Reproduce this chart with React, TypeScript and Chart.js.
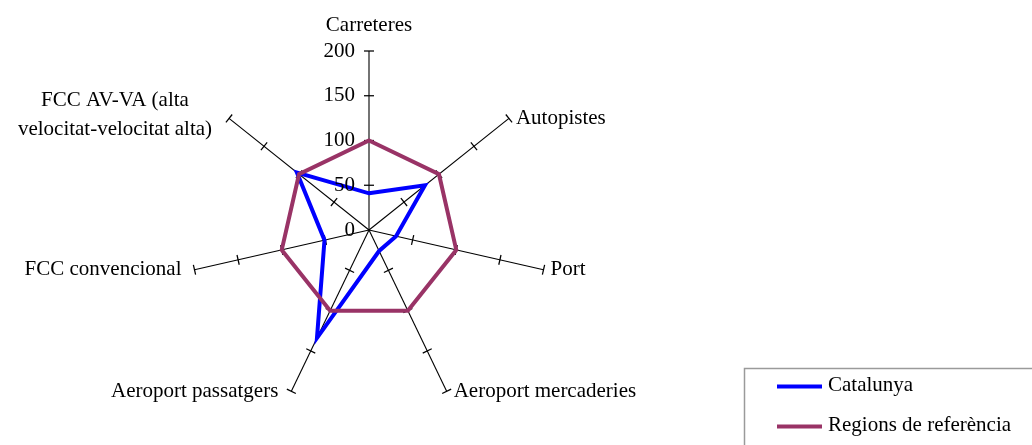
import React, { useEffect, useRef } from "react";
import { Chart, registerables } from "chart.js";

Chart.register(...registerables);

const categories: (string | string[])[] = [
  "Carreteres",
  "Autopistes",
  "Port",
  "Aeroport mercaderies",
  "Aeroport passatgers",
  "FCC convencional",
  ["FCC AV-VA (alta", "velocitat-velocitat alta)"],
];

const catalunya = [41, 80, 31, 26, 134, 51, 103];
const regionsReferencia = [100, 100, 100, 100, 100, 100, 100];

const tickValues = [0, 50, 100, 150, 200];

const FONT = '21px "Liberation Serif", "Times New Roman", serif';

// Tick marks across every spoke, tick labels on the first spoke,
// category labels at the spoke ends and a boxed legend.
const radarDecor = {
  id: "radarDecor",
  beforeDatasetsDraw(chart: any) {
    const scale = chart.scales.r;
    const ctx = chart.ctx;
    const n = chart.data.labels.length;
    ctx.save();
    ctx.strokeStyle = "#000";
    ctx.lineWidth = 1.25;
    for (let i = 0; i < n; i++) {
      for (const v of tickValues) {
        if (v === 0) continue;
        const p = scale.getPointPositionForValue(i, v);
        const a = p.angle + Math.PI / 2;
        const dx = Math.cos(a) * 5;
        const dy = Math.sin(a) * 5;
        ctx.beginPath();
        ctx.moveTo(p.x - dx, p.y - dy);
        ctx.lineTo(p.x + dx, p.y + dy);
        ctx.stroke();
      }
    }
    ctx.restore();
  },
  afterDraw(chart: any) {
    const scale = chart.scales.r;
    const ctx = chart.ctx;
    const labels = chart.data.labels;
    const cx = scale.xCenter;
    ctx.save();
    ctx.font = FONT;
    ctx.fillStyle = "#000";

    // value labels along the Carreteres spoke
    ctx.textAlign = "right";
    ctx.textBaseline = "middle";
    for (const v of tickValues) {
      const p = scale.getPointPositionForValue(0, v);
      ctx.fillText(String(v), cx - 14, p.y);
    }

    // category labels
    const lineH = 29;
    labels.forEach((lab: string | string[], i: number) => {
      const end = scale.getPointPositionForValue(i, scale.max);
      const lines = Array.isArray(lab) ? lab : [lab];
      let x = end.x;
      let yMid = end.y;
      if (Math.abs(end.x - cx) < 2) {
        ctx.textAlign = "center";
        yMid = end.y - 26;
      } else if (end.x > cx) {
        ctx.textAlign = "left";
        x = end.x + 7;
      } else {
        ctx.textAlign = lines.length > 1 ? "center" : "right";
        if (lines.length > 1) {
          let w = 0;
          for (const l of lines) w = Math.max(w, ctx.measureText(l).width);
          x = end.x - 17 - w / 2;
          yMid = end.y - 3;
        } else {
          x = end.x - 13;
        }
      }
      lines.forEach((l, k) => {
        const y = yMid + (k - (lines.length - 1) / 2) * lineH;
        ctx.fillText(l, x, y);
      });
    });

    // legend
    const lx = 744;
    const ly = 368;
    ctx.strokeStyle = "#9a9a9a";
    ctx.lineWidth = 1.5;
    ctx.strokeRect(lx + 0.5, ly + 0.5, 400, 120);
    ctx.textAlign = "left";
    ctx.textBaseline = "middle";
    chart.data.datasets.forEach((ds: any, i: number) => {
      const y = ly + 18.5 + i * 40;
      ctx.strokeStyle = ds.borderColor;
      ctx.lineWidth = 4;
      ctx.beginPath();
      ctx.moveTo(lx + 33, y);
      ctx.lineTo(lx + 78, y);
      ctx.stroke();
      ctx.fillStyle = "#000";
      ctx.fillText(ds.label, lx + 84, y - 1.5);
    });
    ctx.restore();
  },
};

export default function App() {
  const canvasRef = useRef<HTMLCanvasElement | null>(null);

  useEffect(() => {
    if (!canvasRef.current) return;
    const chart = new Chart(canvasRef.current, {
      type: "radar",
      data: {
        labels: categories,
        datasets: [
          {
            label: "Catalunya",
            data: catalunya,
            borderColor: "#0000ff",
            backgroundColor: "rgba(0,0,0,0)",
            borderWidth: 4,
            borderJoinStyle: "miter",
            pointRadius: 0,
            fill: false,
            order: 1,
          },
          {
            label: "Regions de referència",
            data: regionsReferencia,
            borderColor: "#993366",
            backgroundColor: "rgba(0,0,0,0)",
            borderWidth: 4,
            borderJoinStyle: "miter",
            pointRadius: 0,
            fill: false,
            order: 0,
          },
        ],
      },
      options: {
        responsive: false,
        animation: false,
        layout: { padding: { left: 190, right: 484, top: 51, bottom: 36 } },
        plugins: {
          legend: { display: false },
          tooltip: { enabled: false },
        },
        scales: {
          r: {
            min: 0,
            max: 200,
            beginAtZero: true,
            ticks: { display: false, stepSize: 50 },
            grid: { display: false },
            angleLines: { display: true, color: "#000", lineWidth: 1.1 },
            pointLabels: { display: false },
          },
        },
      },
      plugins: [radarDecor],
    });
    return () => chart.destroy();
  }, []);

  return (
    <div style={{ position: "fixed", left: 0, top: 0, width: 1032, height: 445, background: "#fff" }}>
      <canvas ref={canvasRef} width={1032} height={445} />
    </div>
  );
}
